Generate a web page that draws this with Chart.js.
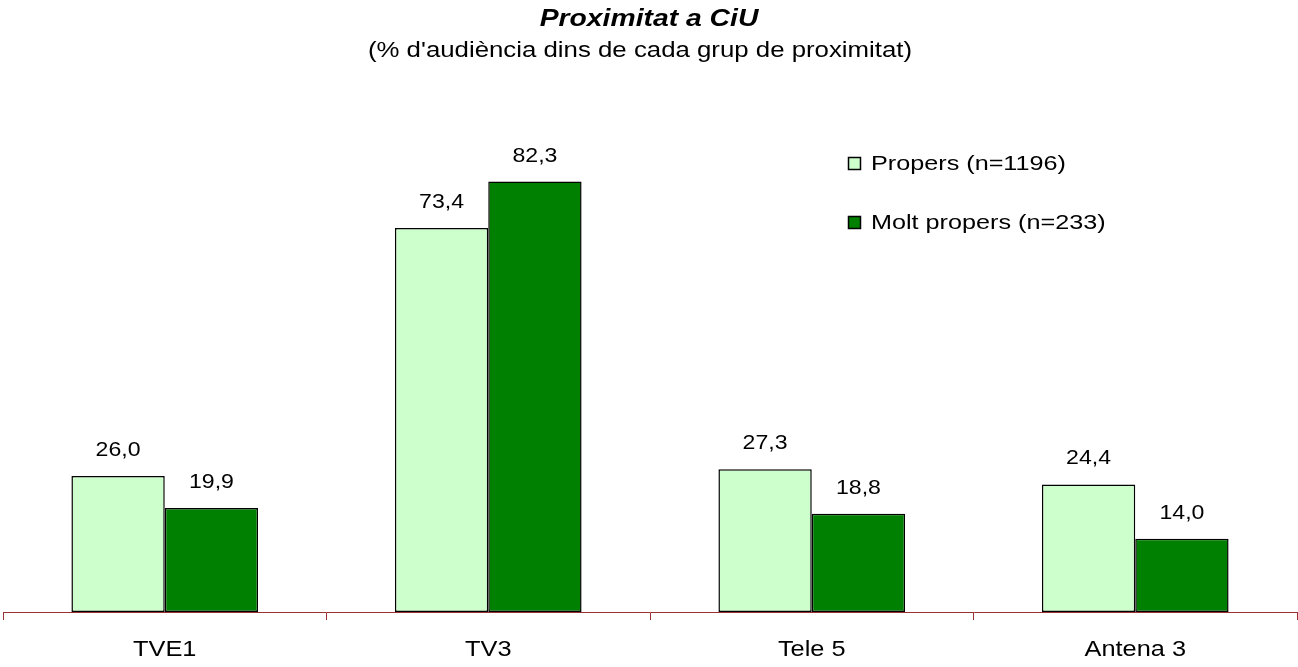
<!DOCTYPE html>
<html>
<head>
<meta charset="utf-8">
<script src="https://cdn.jsdelivr.net/npm/chart.js@4.4.0/dist/chart.umd.min.js"></script>
<style>
  body { margin: 0; background: #fff; }
  #wrap { width: 1298px; height: 667px; }
</style>
</head>
<body>
<div id="wrap"><canvas id="chart"></canvas></div>
<script>
// --- dades ---
const canals = ["TVE1", "TV3", "Tele 5", "Antena 3"];
const propers = [26.0, 73.4, 27.3, 24.4];
const moltPropers = [19.9, 82.3, 18.8, 14.0];
const series = ["Propers (n=1196)", "Molt propers (n=233)"];
const titol = "Proximitat a CiU";
const subtitol = "(% d'audiència dins de cada grup de proximitat)";

const FONT = "'Liberation Sans', Arial, sans-serif";

// El text de l'original surt eixamplat horitzontalment
function textEstirat(ctx, text, x, y, align, sx) {
  ctx.save();
  ctx.translate(x, y);
  ctx.scale(sx, 1);
  ctx.textAlign = align;
  ctx.textBaseline = "alphabetic";
  ctx.fillText(text, 0, 0);
  ctx.restore();
}

// Etiquetes de valor sobre les barres (coma decimal)
const etiquetesValor = {
  id: "etiquetesValor",
  afterDatasetsDraw(chart) {
    const ctx = chart.ctx;
    ctx.save();
    ctx.font = "21px " + FONT;
    ctx.fillStyle = "#000";
    chart.data.datasets.forEach((ds, i) => {
      chart.getDatasetMeta(i).data.forEach((bar, j) => {
        textEstirat(ctx, ds.data[j].toFixed(1).replace(".", ","), bar.x, bar.y - 20, "center", 1.1);
      });
    });
    ctx.restore();
  }
};

// Títols, etiquetes de l'eix i llegenda dibuixats a mà
const textos = {
  id: "textos",
  afterDraw(chart) {
    const ctx = chart.ctx;
    const cx = chart.width / 2;
    ctx.save();
    ctx.fillStyle = "#000";

    ctx.font = "italic bold 24px " + FONT;
    textEstirat(ctx, titol, cx, 26, "center", 1.18);

    ctx.font = "21.5px " + FONT;
    textEstirat(ctx, subtitol, cx - 9, 57, "center", 1.2);

    // etiquetes de categoria
    const sx = chart.scales.x;
    ctx.font = "21.5px " + FONT;
    canals.forEach((c, i) => {
      textEstirat(ctx, c, sx.getPixelForValue(i), 656, "center", 1.18);
    });

    // llegenda
    ctx.font = "21px " + FONT;
    chart.data.datasets.forEach((ds, i) => {
      let y = 170 + i * 59;
      ctx.fillStyle = ds.backgroundColor;
      ctx.fillRect(848, y - 13, 13, 13);
      ctx.strokeStyle = "#000";
      ctx.lineWidth = 1.5;
      ctx.strokeRect(848.5, y - 12.5, 12, 12);
      ctx.fillStyle = "#000";
      textEstirat(ctx, ds.label, 871, y, "left", 1.2);
    });
    ctx.restore();
  }
};

new Chart(document.getElementById("chart").getContext("2d"), {
  type: "bar",
  data: {
    labels: canals,
    datasets: [
      { label: series[0], data: propers, backgroundColor: "#CCFFCC", borderColor: "#000", borderWidth: 1.5, borderSkipped: false },
      { label: series[1], data: moltPropers, backgroundColor: "#008000", borderColor: "#000", borderWidth: 1.5, borderSkipped: false }
    ]
  },
  options: {
    responsive: true,
    maintainAspectRatio: false,
    animation: false,
    layout: { padding: { top: 89, left: 3, right: 1, bottom: 3.8 } },
    datasets: { bar: { categoryPercentage: 0.577, barPercentage: 1.0 } },
    scales: {
      x: {
        grid: { drawOnChartArea: false, drawTicks: true, tickLength: 8, color: "#993333", offset: true },
        border: { color: "#993333", width: 1 },
        ticks: { color: "rgba(0,0,0,0)", font: { family: FONT, size: 21 }, padding: 9 }
      },
      y: { display: false, min: 0, max: 100 }
    },
    plugins: {
      legend: { display: false },
      tooltip: { enabled: false },
      title: { display: false }
    }
  },
  plugins: [etiquetesValor, textos]
});
</script>
</body>
</html>
